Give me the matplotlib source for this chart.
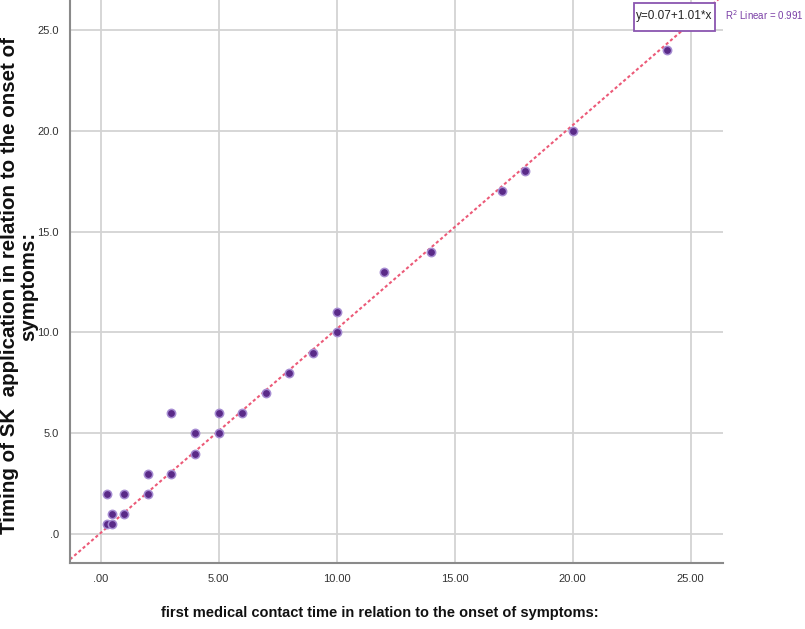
import matplotlib
matplotlib.use("Agg")
import matplotlib.pyplot as plt
from matplotlib.patches import Rectangle
import numpy as np

plt.rcParams['font.family'] = ['Liberation Sans', 'DejaVu Sans']

# data
x_vals = [0.25, 0.25, 0.5, 0.5, 1, 1, 2, 2, 3, 3, 4, 4, 5, 5, 6, 7, 8, 9, 10, 10, 12, 14, 17, 18, 20, 24]
y_vals = [0.5, 2, 0.5, 1, 1, 2, 2, 3, 3, 6, 4, 5, 5, 6, 6, 7, 8, 9, 10, 11, 13, 14, 17, 18, 20, 24]
intercept = 0.07
slope = 1.01
r2 = 0.991
x_ticks = [0, 5, 10, 15, 20, 25]
x_tick_labels = ['.00', '5.00', '10.00', '15.00', '20.00', '25.00']
y_ticks = [0, 5, 10, 15, 20, 25]
y_tick_labels = ['.0', '5.0', '10.0', '15.0', '20.0', '25.0']
x_title = 'first medical contact time in relation to the onset of symptoms:'
y_title_1 = 'Timing of SK  application in relation to the onset of'
y_title_2 = 'symptoms:'

W, H = 805, 629
fig = plt.figure(figsize=(W / 100, H / 100), dpi=100)
ax = fig.add_axes([70 / W, 1 - 563 / H, (723 - 70) / W, 563 / H])
xlim = (-1.30, 26.37)
ylim = (-1.42, 26.47)
ax.set_xlim(*xlim)
ax.set_ylim(*ylim)

ax.set_xticks(x_ticks)
ax.set_xticklabels(x_tick_labels)
ax.set_yticks(y_ticks)
ax.set_yticklabels(y_tick_labels)
ax.tick_params(length=0, labelsize=8, labelcolor='#333333', pad=8)
ax.grid(True, color='#d3d3d3', linewidth=1.3)
ax.set_axisbelow(True)
for s in ['top', 'right']:
    ax.spines[s].set_visible(False)
for s in ['left', 'bottom']:
    ax.spines[s].set_color('#8a8a8a')
    ax.spines[s].set_linewidth(1.5)

# fit line
lx = np.array(xlim)
ax.plot(lx, intercept + slope * lx, color='#ec5a78', linestyle=(0, (1.5, 1.2)),
        linewidth=1.5, zorder=2)

ax.scatter(x_vals, y_vals, s=36, color='#5a2a88', edgecolor='#a68cd2',
           linewidth=1.1, zorder=3)

def px(x, y):
    return x / W, 1 - y / H

renderer = fig.canvas.get_renderer()

def fit(t, target):
    bb = t.get_window_extent(renderer=renderer)
    length = max(bb.width, bb.height)
    t.set_fontsize(t.get_fontsize() * target / length)

tx = fig.text(*px(380, 613), x_title, fontsize=12, fontweight='bold', color='#111111',
              ha='center', va='center')
fit(tx, 434)
ty1 = fig.text(*px(10, 286), y_title_1, fontsize=12, fontweight='bold', color='#111111',
               ha='center', va='center', rotation=90)
fit(ty1, 495)
ty2 = fig.text(*px(29, 286), y_title_2, fontsize=ty1.get_fontsize(), fontweight='bold',
               color='#111111', ha='center', va='center', rotation=90)

# equation box
x0, y0 = px(634, 31)
x1, y1 = px(715, 3)
fig.add_artist(Rectangle((x0, y0), x1 - x0, y1 - y0, transform=fig.transFigure,
                         facecolor='white', edgecolor='#8a55b0', linewidth=1.3, zorder=5))
fig.text(*px(674.5, 16), 'y=0.07+1.01*x', fontsize=8.5, color='#222222',
         ha='center', va='center', zorder=6)
fig.text(*px(725, 15), 'R$^2$ Linear = %.3f' % r2, fontsize=7, color='#7a3fa6',
         ha='left', va='center')

fig.savefig('out.png', dpi=100)
